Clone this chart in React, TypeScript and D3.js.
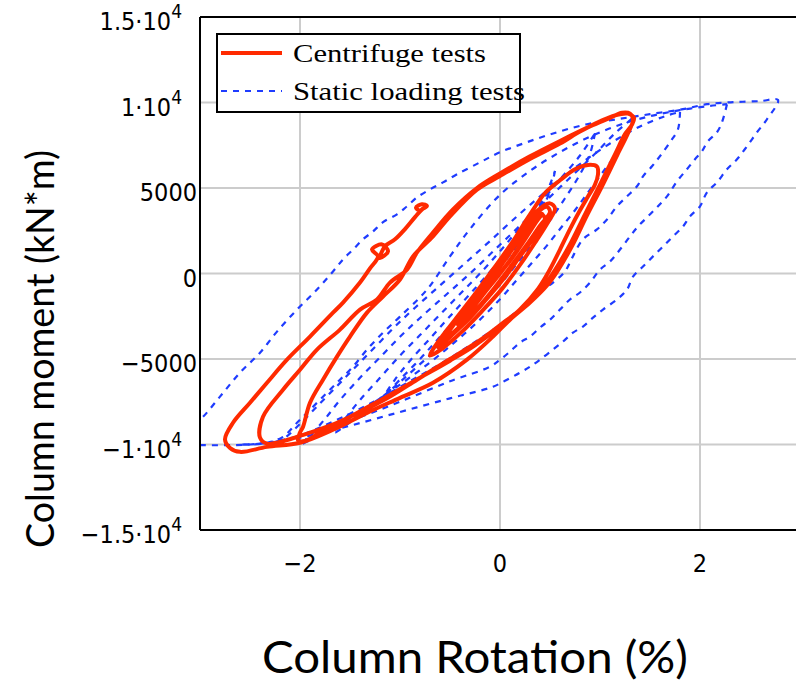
import React from "react";
import * as d3 from "d3";

type P = [number, number];

// Y tick values and labels
const yTicks: number[] = [15000, 10000, 5000, 0, -5000, -10000, -15000];
const yTickLabels: [string, string][] = [
  ["1.5·10", "4"],
  ["1·10", "4"],
  ["5000", ""],
  ["0", ""],
  ["−5000", ""],
  ["−1·10", "4"],
  ["−1.5·10", "4"],
];
const xTicks: number[] = [-2, 0, 2];
const xTickLabels: string[] = ["−2", "0", "2"];
const yGrid: number[] = [10000, 5000, 0, -5000, -10000];

// Centrifuge tests (rotation %, moment kN*m)
const centrifugeCluster: P[] = [
  [0, 0], [0.12, 900], [0.25, 2000], [0.35, 2900], [0.42, 3500], [0.38, 3300], [0.28, 2400], [0.15, 1200], [0, 0],
  [-0.15, -1100], [-0.3, -2200], [-0.42, -3000], [-0.38, -2600], [-0.25, -1500], [-0.1, -400], [0.05, 800],
  [0.18, 1900], [0.3, 2900], [0.4, 3700], [0.47, 3900], [0.5, 3600], [0.4, 2800], [0.27, 1700], [0.12, 500],
  [-0.05, -800], [-0.22, -2000], [-0.4, -3100], [-0.55, -3800], [-0.5, -3300], [-0.35, -2100], [-0.18, -800],
  [0, 500], [0.15, 1700], [0.28, 2800], [0.38, 3600], [0.45, 3200], [0.35, 2200], [0.2, 1000], [0.05, -200],
  [-0.12, -1400], [-0.3, -2600], [-0.48, -3600], [-0.62, -4300], [-0.55, -3700], [-0.4, -2500], [-0.22, -1100],
  [-0.05, 300], [0.1, 1500], [0.25, 2700], [0.38, 3700], [0.5, 4100], [0.55, 3800], [0.48, 3000], [0.35, 1800],
  [0.2, 500], [0.02, -900], [-0.18, -2200], [-0.38, -3400], [-0.58, -4400], [-0.7, -4800], [-0.62, -4000],
  [-0.45, -2700], [-0.25, -1200], [-0.05, 400], [0.12, 1800],
];
const centrifugeMedium: P[] = [
  [0.25, 3000], [0.35, 3900], [0.45, 4700], [0.6, 5450], [0.75, 6100], [0.88, 6350], [0.97, 6250], [0.98, 5800],
  [0.95, 5200], [0.88, 4500], [0.8, 3700], [0.7, 2600], [0.6, 1400], [0.5, 250], [0.38, -900], [0.2, -2100],
  [0, -3100], [-0.25, -4200], [-0.5, -5100], [-0.8, -6100], [-1.1, -7100], [-1.35, -7900], [-1.6, -8700],
  [-1.8, -9300], [-1.95, -9800], [-2.02, -9750], [-2.0, -9300], [-1.97, -8970], [-1.9, -7560], [-1.77, -6210],
  [-1.63, -4860], [-1.5, -3690], [-1.33, -2290], [-1.17, -1350], [-1.0, -350], [-0.87, 1000], [-0.67, 2170],
  [-0.5, 3340], [-0.23, 4900], [0, 5700], [0.3, 6700], [0.6, 7600], [0.8, 8300], [1.0, 8900], [1.15, 9250],
  [1.28, 9350], [1.34, 9100], [1.32, 8700],
];
const centrifugeLarge: P[] = [
  [1.25, 8150], [1.15, 6970], [1.0, 5200], [0.85, 3460], [0.7, 1700], [0.55, 200], [0.42, -900], [0.25, -1900],
  [0.05, -2800], [-0.2, -3900], [-0.5, -5000], [-0.83, -6210], [-1.13, -7300], [-1.4, -8100], [-1.7, -8900],
  [-2.0, -9500], [-2.2, -9850], [-2.33, -9950], [-2.4, -9600], [-2.37, -8380], [-2.17, -6800], [-2.0, -5630],
  [-1.83, -4450], [-1.6, -3280], [-1.4, -2110], [-1.23, -1520], [-1.1, -530], [-0.93, 230], [-0.83, 1230],
  [-0.67, 2400], [-0.47, 3750], [-0.23, 5000], [0, 5850], [0.3, 6850], [0.6, 7750], [0.9, 8600], [1.1, 9100],
  [1.22, 9400], [1.3, 9350], [1.33, 9000], [1.28, 8200], [1.17, 6900], [1.02, 5100], [0.87, 3400], [0.72, 1600],
  [0.57, 100], [0.47, -700], [0.3, -1700], [0.1, -2700], [-0.07, -3690], [-0.33, -5040], [-0.67, -6390],
  [-1.0, -7270], [-1.33, -8150], [-1.67, -9140], [-2.0, -9900], [-2.33, -10140], [-2.6, -10430], [-2.7, -10200],
  [-2.75, -9700], [-2.67, -8730], [-2.5, -7560], [-2.33, -6390], [-2.13, -5040], [-1.9, -3690], [-1.67, -2290],
  [-1.57, -1700], [-1.4, -530], [-1.3, 300], [-1.22, 1000], [-1.28, 1400], [-1.18, 1700], [-1.12, 1300],
  [-1.2, 900], [-1.15, 1600], [-1.05, 2000], [-0.95, 2600], [-0.85, 3300], [-0.78, 3750], [-0.73, 3950],
  [-0.78, 4050], [-0.84, 3850], [-0.8, 3650],
];

// Static loading tests
const staticLoop1: P[] = [
  [0.55, 6000], [0.5, 4800], [0.4, 3600], [0.25, 2300], [0.1, 1100], [-0.05, 0], [-0.2, -1100], [-0.4, -2400],
  [-0.6, -3700], [-0.8, -5000], [-1.0, -6200], [-1.15, -7100], [-1.05, -6200], [-0.9, -5100], [-0.7, -3800],
  [-0.5, -2500], [-0.3, -1200], [-0.1, 100], [0.1, 1500], [0.3, 3000], [0.45, 4500], [0.55, 6000],
];
const staticLoop2: P[] = [
  [0.95, 8200], [0.9, 7000], [0.8, 5800], [0.65, 4400], [0.5, 3100], [0.35, 1900], [0.2, 800], [0.05, -300],
  [-0.1, -1300], [-0.3, -2600], [-0.55, -4000], [-0.8, -5300], [-1.05, -6600], [-1.3, -7800], [-1.5, -8700],
  [-1.65, -9300], [-1.55, -8500], [-1.4, -7400], [-1.2, -6100], [-1.0, -4800], [-0.8, -3600], [-0.6, -2400],
  [-0.4, -1200], [-0.2, 0], [0, 1300], [0.2, 2700], [0.4, 4100], [0.6, 5500], [0.8, 6900], [0.95, 8200],
];
const staticLoop3: P[] = [
  [1.35, 9200], [1.3, 8400], [1.2, 7300], [1.05, 6100], [0.9, 4900], [0.75, 3700], [0.6, 2600], [0.45, 1500],
  [0.3, 500], [0.15, -500], [0, -1500], [-0.2, -2700], [-0.45, -4000], [-0.7, -5200], [-1.0, -6500],
  [-1.3, -7700], [-1.6, -8800], [-1.85, -9600], [-2.0, -10000], [-1.9, -9500], [-1.75, -8500], [-1.6, -7400],
  [-1.4, -6100], [-1.2, -4900], [-1.0, -3700], [-0.8, -2600], [-0.55, -1300], [-0.3, 0], [-0.05, 1400],
  [0.2, 2800], [0.45, 4200], [0.7, 5600], [0.95, 7000], [1.15, 8200], [1.35, 9200],
];
const staticLoop4: P[] = [
  [1.8, 9450], [1.78, 8440], [1.7, 7680], [1.6, 6860], [1.52, 6270], [1.43, 5680], [1.37, 5100], [1.27, 4510],
  [1.17, 3930], [1.07, 3160], [0.97, 2580], [0.83, 2000], [0.72, 900], [0.65, 120], [0.53, -530], [0.43, -940],
  [0.33, -1400], [0.22, -2000], [0.1, -2520], [0, -3000], [-0.3, -4200], [-0.6, -5300], [-0.9, -6300],
  [-1.2, -7300], [-1.5, -8200], [-1.8, -9000], [-2.1, -9700], [-2.3, -10000], [-2.15, -9600], [-2.0, -8800],
  [-1.85, -7900], [-1.65, -6700], [-1.45, -5500], [-1.25, -4300], [-1.05, -3100], [-0.85, -2000], [-0.6, -700],
  [-0.35, 600], [-0.1, 1900], [0.2, 3500], [0.5, 5000], [0.8, 6400], [1.1, 7600], [1.4, 8600], [1.65, 9200],
  [1.8, 9450],
];
const staticLoop5: P[] = [
  [2.27, 9900], [2.22, 8850], [2.17, 8260], [2.08, 7740], [2.02, 7150], [1.95, 6680], [1.87, 6100], [1.77, 5390],
  [1.67, 4510], [1.58, 3930], [1.48, 3340], [1.38, 2750], [1.3, 2170], [1.2, 1400], [1.1, 700], [1.0, 230],
  [0.9, -530], [0.8, -1110], [0.7, -1520], [0.6, -2110], [0.5, -2700], [0.4, -3160], [0.3, -3690], [0.2, -4040],
  [0.1, -4570], [0, -5040], [-0.1, -5450], [-0.5, -6300], [-1.0, -7500], [-1.5, -8600], [-2.0, -9500],
  [-2.4, -9950], [-2.6, -10000], [-2.5, -10000], [-2.33, -9900], [-2.17, -9550], [-2.03, -8730], [-1.9, -7970],
  [-1.73, -6970], [-1.6, -6210], [-1.47, -5450], [-1.33, -4450], [-1.17, -3460], [-1.0, -2520], [-0.73, -940],
  [-0.5, 1000], [-0.3, 2600], [0, 4600], [0.3, 6000], [0.6, 7100], [0.9, 8000], [1.2, 8700], [1.5, 9200],
  [1.8, 9550], [2.1, 9800], [2.27, 9900],
];
const staticLoop6: P[] = [
  [-3.35, -10000], [-3.3, -9600], [-3.15, -9200], [-3, -8560], [-2.8, -7200], [-2.6, -5800], [-2.4, -4630],
  [-2.23, -3400], [-2.03, -2110], [-1.83, -940], [-1.67, 120], [-1.57, 820], [-1.47, 1400], [-1.37, 2000],
  [-1.27, 2460], [-1.17, 3000], [-1.03, 3460], [-0.93, 3930], [-0.83, 4450], [-0.7, 4920], [-0.57, 5330],
  [-0.43, 5800], [-0.2, 6500], [0, 7090], [0.27, 7680], [0.57, 8260], [0.87, 8730], [1.17, 9020], [1.5, 9320],
  [1.83, 9610], [2.07, 9900], [2.33, 10020], [2.6, 10080], [2.78, 10150], [2.67, 9020], [2.57, 8260],
  [2.47, 7440], [2.37, 6680], [2.27, 6100], [2.17, 5330], [2.07, 4750], [2.0, 3930], [1.9, 3340], [1.83, 2750],
  [1.73, 2170], [1.63, 1580], [1.53, 1000], [1.43, 410], [1.33, -180], [1.27, -940], [1.17, -1520],
  [1.03, -2110], [0.93, -2580], [0.83, -3100], [0.73, -3460], [0.63, -3980], [0.53, -4450], [0.4, -5040],
  [0.3, -5450], [0.2, -5800], [0.07, -6210], [-0.07, -6620], [-0.5, -7300], [-1.0, -8100], [-1.5, -8900],
  [-2.0, -9600], [-2.5, -10000], [-3.35, -10000],
];

const centrifugeSeries: P[][] = [centrifugeCluster, centrifugeMedium, centrifugeLarge];
const staticSeries: P[][] = [staticLoop1, staticLoop2, staticLoop3, staticLoop4, staticLoop5, staticLoop6];

const W = 796;
const H = 683;
const left = 200, right = 800, top = 17, bottom = 530;

export default function App() {
  const x = d3.scaleLinear().domain([-3, 3]).range([left, right]);
  const y = d3.scaleLinear().domain([-15000, 15000]).range([bottom, top]);
  const line = d3
    .line<P>()
    .x((d) => x(d[0]))
    .y((d) => y(d[1]))
    .curve(d3.curveCatmullRom.alpha(0.5));

  const redPath = line(centrifugeSeries.flat()) || "";
  const red = "#ff2a00";
  const blue = "#1f3cff";
  const tickFont = "'DejaVu Sans Condensed', 'DejaVu Sans', sans-serif";
  const legendFont = "'Liberation Serif', 'DejaVu Serif', serif";

  return (
    <svg
      width={W}
      height={H}
      style={{ position: "absolute", left: 0, top: 0, background: "#fff" }}
      xmlns="http://www.w3.org/2000/svg"
    >
      <defs>
        <clipPath id="plotclip">
          <rect x={left} y={top} width={right - left} height={bottom - top} />
        </clipPath>
      </defs>
      <rect x={0} y={0} width={W} height={H} fill="#fff" />
      {/* grid */}
      {yGrid.map((v) => (
        <line key={"gy" + v} x1={left} x2={right} y1={y(v)} y2={y(v)} stroke="#cccccc" strokeWidth={2} />
      ))}
      {xTicks.map((v) => (
        <line key={"gx" + v} x1={x(v)} x2={x(v)} y1={top} y2={bottom} stroke="#cccccc" strokeWidth={2} />
      ))}
      {/* data */}
      <g clipPath="url(#plotclip)">
        {staticSeries.map((s, i) => (
          <path
            key={"s" + i}
            d={line(s) || ""}
            fill="none"
            stroke={blue}
            strokeWidth={2.2}
            strokeDasharray="6,6"
          />
        ))}
        <path d={redPath} fill="none" stroke={red} strokeWidth={4} strokeLinejoin="round" />
      </g>
      {/* frame */}
      <line x1={left} x2={left} y1={top} y2={bottom} stroke="#000" strokeWidth={2} />
      <line x1={left} x2={right} y1={bottom} y2={bottom} stroke="#000" strokeWidth={2} />
      <line x1={left} x2={right} y1={top} y2={top} stroke="#000" strokeWidth={2} />
      {/* y tick labels */}
      {yTicks.map((v, i) => {
        const [main, sup] = yTickLabels[i];
        const xe = sup ? 182 : 197;
        return (
          <text
            key={"yt" + v}
            x={xe}
            y={y(v) + 13}
            textAnchor="end"
            fontFamily={tickFont}
            fontSize={25}
            fill="#000"
          >
            {main}
            {sup ? (
              <tspan dy={-12} fontSize={19}>
                {sup}
              </tspan>
            ) : null}
          </text>
        );
      })}
      {/* x tick labels */}
      {xTicks.map((v, i) => (
        <text
          key={"xt" + v}
          x={x(v)}
          y={572}
          textAnchor="middle"
          fontFamily={tickFont}
          fontSize={25}
          fill="#000"
        >
          {xTickLabels[i]}
        </text>
      ))}
      {/* legend */}
      <rect x={217} y={34} width={303} height={78} fill="#fff" stroke="#000" strokeWidth={2} />
      <line x1={221} x2={282} y1={53} y2={53} stroke={red} strokeWidth={4} />
      <line x1={221} x2={282} y1={91} y2={91} stroke={blue} strokeWidth={2.2} strokeDasharray="6,6" />
      <text x={293} y={62} fontFamily={legendFont} fontSize={25} textLength={193} lengthAdjust="spacingAndGlyphs">
        Centrifuge tests
      </text>
      <text x={293} y={100} fontFamily={legendFont} fontSize={25} textLength={232} lengthAdjust="spacingAndGlyphs">
        Static loading tests
      </text>
      {/* axis titles */}
      <text
        transform={`translate(54,${349}) rotate(-90)`}
        textAnchor="middle"
        fontFamily="Lato, 'Open Sans', sans-serif"
        fontSize={38}
        textLength={398}
        lengthAdjust="spacingAndGlyphs"
        fill="#000"
      >
        Column moment (kN*m)
      </text>
      <text
        x={475}
        y={673}
        textAnchor="middle"
        fontFamily="Lato, 'Open Sans', sans-serif"
        fontSize={45}
        textLength={426}
        lengthAdjust="spacingAndGlyphs"
        fill="#000"
      >
        Column Rotation (%)
      </text>
    </svg>
  );
}
